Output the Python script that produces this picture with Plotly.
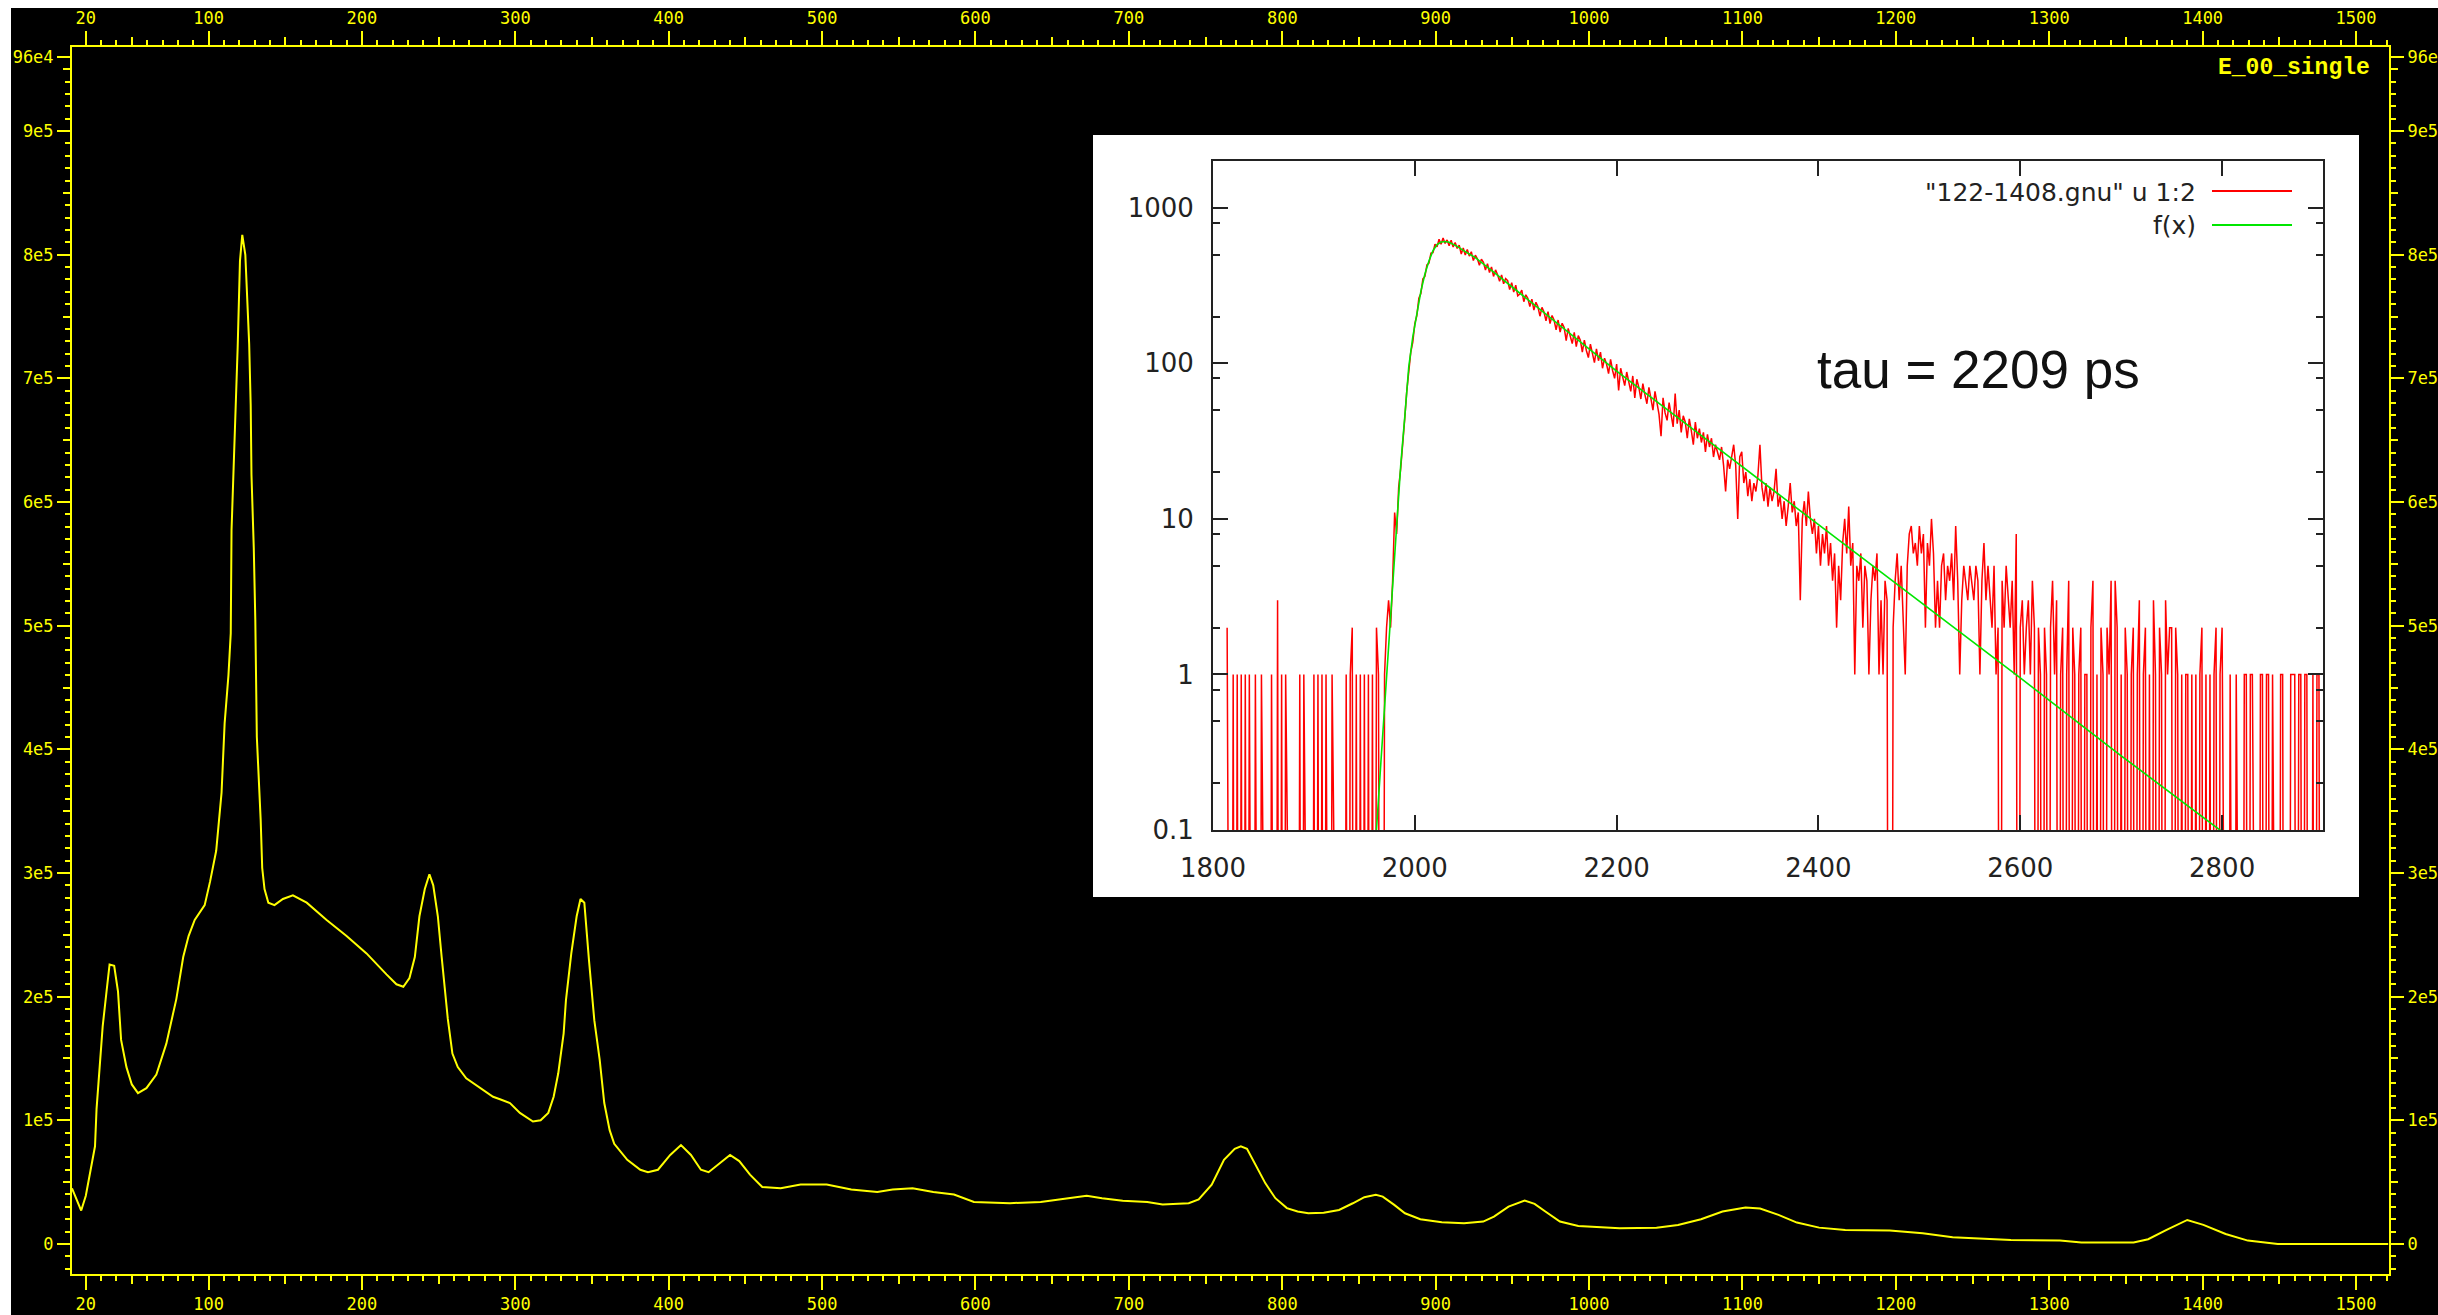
import math
import plotly.graph_objects as go

# ---------------- page geometry (pixels) ----------------
W, H = 2438, 1315
ML, MR, MT, MB = 72, 49, 47, 41
PW, PH = W - ML - MR, H - MT - MB


def fx(p):
    return (p - ML) / PW


def fy(p):
    return (H - MB - p) / PH


YEL = '#ffff00'
INK = '#222222'

# ---------------- main spectrum (E_00_single) ----------------
spec_x = [11, 14, 17, 20, 23.7, 26, 27, 29, 31, 33.5,
          35.5, 38.5, 41, 43, 46.5, 50, 54, 59.5, 66, 72.5,
          79, 83.5, 87, 91, 97.5, 101, 105, 108.5, 110.5, 113,
          114.5, 115, 116.5, 118, 119, 120.5, 122, 124, 125, 126.5,
          127.5, 128, 129.5, 130.5, 131.5, 133, 134, 135, 136.5, 139,
          143, 148.5, 155, 164, 177, 190, 203, 216, 222.5, 227,
          231, 234.5, 237.5, 241, 244, 246.5, 249.5, 252, 254, 256,
          259, 262.5, 268, 277, 285.5, 290, 296.5, 303, 311.5, 316.5,
          321.5, 325, 328, 331.5, 333, 336.5, 340, 342.5, 345, 348,
          351.5, 355, 358, 361.5, 364.5, 373, 381.5, 386.5, 393, 401,
          408, 414.5, 421, 426, 433, 440, 446, 453, 461, 473,
          486, 503, 519, 536, 546, 559, 572.5, 586, 599, 622.5,
          642.5, 659, 672.5, 682.5, 696, 712, 722, 739, 745.5, 754,
          762, 769, 773, 777, 782, 789, 795.5, 803, 810, 817,
          827, 837, 846, 853.5, 861, 865.5, 873, 880, 890, 904,
          918.5, 931, 938, 947.5, 958, 964.5, 971.5, 981, 993, 1020,
          1044, 1058, 1073, 1087, 1102, 1111.5, 1123.5, 1135.5, 1150, 1167,
          1196, 1217.5, 1237, 1261, 1275, 1307, 1321, 1355, 1364.5, 1376.5,
          1390, 1400.5, 1415, 1429.5, 1449, 1521]

# counts in units of 1e5
spec_y_e5 = [0.45, 0.36, 0.27, 0.39, 0.65, 0.79, 1.09, 1.43, 1.76, 2.04,
             2.26, 2.25, 2.04, 1.65, 1.43, 1.29, 1.22, 1.26, 1.37, 1.62,
             1.98, 2.32, 2.49, 2.62, 2.74, 2.93, 3.18, 3.65, 4.21, 4.6,
             4.94, 5.77, 6.27, 6.78, 7.25, 7.95, 8.16, 8.0, 7.72, 7.28,
             6.78, 6.22, 5.63, 5.05, 4.1, 3.71, 3.43, 3.04, 2.87, 2.76,
             2.74, 2.79, 2.82, 2.76, 2.62, 2.49, 2.35, 2.18, 2.10, 2.08,
             2.15, 2.32, 2.65, 2.87, 2.99, 2.9, 2.65, 2.32, 2.04, 1.82,
             1.54, 1.43, 1.34, 1.26, 1.19, 1.17, 1.14, 1.06, 0.99, 1.0,
             1.06, 1.19, 1.38, 1.7, 1.97, 2.35, 2.65, 2.79, 2.76, 2.3,
             1.81, 1.49, 1.14, 0.92, 0.81, 0.68, 0.6, 0.58, 0.6, 0.72,
             0.8, 0.72, 0.6, 0.58, 0.65, 0.72, 0.67, 0.56, 0.46, 0.45,
             0.48, 0.48, 0.44, 0.42, 0.44, 0.45, 0.42, 0.4, 0.34, 0.33,
             0.34, 0.37, 0.39, 0.37, 0.35, 0.34, 0.32, 0.33, 0.36, 0.48,
             0.68, 0.77, 0.79, 0.77, 0.65, 0.49, 0.37, 0.29, 0.262, 0.248,
             0.253, 0.275, 0.329, 0.378, 0.397, 0.383, 0.316, 0.248, 0.2, 0.175,
             0.167, 0.181, 0.221, 0.302, 0.351, 0.324, 0.262, 0.181, 0.146, 0.127,
             0.132, 0.154, 0.2, 0.262, 0.294, 0.286, 0.235, 0.173, 0.132, 0.113,
             0.108, 0.086, 0.054, 0.038, 0.032, 0.027, 0.011, 0.011, 0.038, 0.113,
             0.194, 0.154, 0.081, 0.027, 0.0, 0.0]

main_xticks = [20, 100, 200, 300, 400, 500, 600, 700, 800, 900, 1000,
               1100, 1200, 1300, 1400, 1500]
main_xmid = [50, 150, 250, 350, 450, 550, 650, 750, 850, 950, 1050,
             1150, 1250, 1350, 1450]
main_yticks = [0, 100000, 200000, 300000, 400000, 500000, 600000,
               700000, 800000, 900000, 960000]
main_ytext = ['0', '1e5', '2e5', '3e5', '4e5', '5e5', '6e5', '7e5',
              '8e5', '9e5', '96e4']
main_ymid = [50000, 150000, 250000, 350000, 450000, 550000, 650000,
             750000, 850000, 950000]

# ---------------- inset: lifetime spectrum ----------------
red_pre_start = 1814
red_pre = [2, 0, 0, 1, 0, 1, 0, 1, 0, 1,
           0, 1, 0, 0, 1, 0, 0, 1, 0, 0,
           0, 0, 1, 0, 0, 3, 0, 1, 0, 1,
           0, 0, 0, 0, 0, 0, 1, 0, 1, 0,
           0, 0, 0, 1, 0, 1, 0, 1, 0, 1,
           0, 0, 1, 0, 0, 0, 0, 0, 0, 1,
           0, 1, 2, 0, 1, 0, 1, 0, 1, 0,
           1, 0, 1, 0, 2, 1, 0, 0, 1, 2,
           3]

red_decay_start = 1976
red_decay = [2, 4, 11, 8, 16, 21, 33, 44, 66, 93,
             118, 137, 180, 203, 262, 281, 349, 362, 430, 441,
             512, 515, 583, 561, 628, 584, 640, 590, 622, 571,
             618, 560, 599, 548, 575, 505, 552, 497, 540, 489,
             522, 458, 496, 470, 428, 467, 446, 398, 437, 384,
             417, 362, 399, 371, 337, 370, 325, 351, 340, 298,
             330, 287, 318, 272, 279, 296, 249, 276, 262, 232,
             259, 220, 247, 231, 201, 229, 214, 188, 215, 180,
             203, 190, 164, 190, 159, 181, 170, 140, 168, 150,
             134, 158, 128, 151, 141, 118, 141, 121, 109, 133,
             115, 101, 124, 104, 118, 93, 108, 99, 86, 106,
             90, 80, 99, 67, 93, 81, 72, 88, 75, 66,
             83, 60, 79, 70, 59, 74, 63, 55, 70, 58,
             50, 66, 55, 47, 34, 60, 48, 43, 56, 47,
             39, 64, 41, 50, 36, 46, 42, 33, 44, 37,
             30, 42, 33]

red_tail_start = 2282
red_tail = [38, 31, 36, 27, 35, 29, 33, 25, 30, 27,
            24, 29, 22, 15, 24, 21, 26, 30, 22, 10,
            25, 27, 17, 20, 14, 18, 13, 17, 15, 19,
            30, 16, 13, 17, 12, 16, 13, 15, 21, 12,
            14, 10, 13, 9, 12, 17, 11, 13, 9, 11,
            3, 10, 13, 9, 15, 10, 8, 10, 6, 9,
            5, 8, 6, 9, 5, 7, 4, 6, 2, 5,
            3, 7, 10, 6, 12, 5, 7, 1, 5, 4,
            6, 2, 5, 4, 1, 3, 5, 4, 6, 1,
            3, 1, 4, 3, 0, 0, 2, 4, 6, 3,
            5, 2, 1, 5, 8, 9, 6, 7, 5, 9,
            6, 8, 2, 7, 5, 10, 6, 2, 4, 2,
            5, 6, 3, 5, 4, 6, 3, 9, 4, 1,
            3, 5, 4, 3, 5, 4, 3, 5, 4, 1,
            4, 7, 3, 5, 3, 2, 5, 1, 2, 0,
            4, 2, 5, 3, 2, 4, 1, 8, 0, 2,
            3, 1, 2, 3, 1, 4, 2, 0, 2, 1,
            0, 2, 1, 0, 2, 4, 1, 3, 0, 1,
            2, 0, 1, 4, 0, 2, 1, 0, 1, 2,
            0, 1, 1, 0, 2, 4, 0, 1, 0, 2,
            1, 0, 2, 1, 4, 0, 4, 2, 0, 1,
            0, 2, 1, 0, 1, 2, 0, 1, 3, 0,
            1, 2, 0, 1, 0, 3, 1, 0, 2, 1,
            0, 3, 1, 2, 2, 0, 2, 1, 0, 1,
            0, 1, 1, 0, 1, 0, 1, 0, 1, 2,
            0, 1, 0, 1, 0, 1, 2, 0, 1, 2,
            0, 0, 0, 1, 0, 0, 1, 0, 0, 0,
            1, 1, 0, 1, 1, 0, 0, 0, 1, 1,
            0, 1, 1, 0, 1, 0, 0, 0, 1, 1,
            0, 0, 0, 1, 1, 1, 0, 1, 1, 0,
            1, 1, 0, 0, 1, 0, 1, 1, 0]
red_step = 2

green_x = [1958, 1962, 1966, 1970, 1974, 1978, 1982, 1986, 1990, 1994,
           1998, 2002, 2006, 2010, 2014, 2018, 2022, 2026, 2030, 2034,
           2038, 2042, 2048, 2054, 2060, 2080, 2100, 2120, 2150, 2200,
           2300, 2400, 2500, 2600, 2700, 2800, 2820]
green_y = [0.05, 0.1, 0.25, 0.62, 1.6, 4.2, 10, 22, 45, 95,
           148, 212, 290, 375, 455, 530, 580, 603, 608, 600,
           585, 565, 533, 505, 478, 378, 297, 233, 161, 89,
           28.6, 9.16, 2.94, 0.95, 0.30, 0.097, 0.078]

inset_xticks = [1800, 2000, 2200, 2400, 2600, 2800]
inset_yticks = [0.1, 1, 10, 100, 1000]
inset_ytext = ['0.1', '1', '10', '100', '1000']
inset_yminor = [0.2, 0.5, 0.8, 2, 5, 8, 20, 50, 80, 200, 500, 800]
inset_ymax = 2000
legend_labels = ['"122-1408.gnu" u 1:2', 'f(x)']
tau_text = 'tau = 2209 ps'
title_text = 'E_00_single'

ZERO_LOG = -6.0  # empty channels fall to the bottom of the log axis


def seg(start, vals):
    return [start + red_step * i for i in range(len(vals))], vals


rx = []
rc = []
for s, v in ((red_pre_start, red_pre), (red_decay_start, red_decay),
             (red_tail_start, red_tail)):
    xx, vv = seg(s, v)
    rx += xx
    rc += vv
red_log = [math.log10(c) if c > 0 else ZERO_LOG for c in rc]
green_log = [math.log10(v) for v in green_y]

spec_counts = [v * 1e5 for v in spec_y_e5]

# ---------------- figure ----------------
fig = go.Figure()
fig.add_trace(go.Scatter(x=spec_x, y=spec_counts, mode='lines',
                         line=dict(color=YEL, width=2),
                         xaxis='x', yaxis='y', hoverinfo='skip'))
for i in (2, 3, 4):
    fig.add_trace(go.Scatter(x=[None], y=[None], mode='lines',
                             xaxis=f'x{i}', yaxis=f'y{i}', hoverinfo='skip'))
fig.add_trace(go.Scatter(x=rx, y=red_log, mode='lines',
                         line=dict(color='#ff0000', width=1.5),
                         xaxis='x5', yaxis='y5', hoverinfo='skip'))
fig.add_trace(go.Scatter(x=green_x, y=green_log, mode='lines',
                         line=dict(color='#00e600', width=1.6),
                         xaxis='x5', yaxis='y5', hoverinfo='skip'))

x_range = [11, 1521.5]
y_range = [-24300, 968000]
mfont = dict(family='DejaVu Sans Mono', size=17, color=YEL)

base_x = dict(range=x_range, type='linear', autorange=False, showgrid=False,
              zeroline=False, ticks='outside', tickcolor=YEL, tickwidth=1.5,
              automargin=False, fixedrange=True)
base_y = dict(range=y_range, type='linear', autorange=False, showgrid=False,
              zeroline=False, ticks='outside', tickcolor=YEL, tickwidth=1.5,
              automargin=False, fixedrange=True)

minor_x = dict(tickmode='linear', tick0=0, dtick=10, ticklen=5,
               ticks='outside', tickcolor=YEL, tickwidth=1.5, showgrid=False)
minor_y = dict(tickmode='linear', tick0=0, dtick=10000, ticklen=5,
               ticks='outside', tickcolor=YEL, tickwidth=1.5, showgrid=False)

layout_axes = dict(
    xaxis=dict(**base_x, side='bottom', anchor='y', tickmode='array',
               tickvals=main_xticks, ticktext=[str(v) for v in main_xticks],
               ticklen=14, tickfont=mfont, showline=True, linecolor=YEL,
               linewidth=2, minor=minor_x),
    yaxis=dict(**base_y, side='left', anchor='x', tickmode='array',
               tickvals=main_yticks, ticktext=main_ytext, ticklen=13,
               tickfont=mfont, showline=True, linecolor=YEL, linewidth=2,
               minor=minor_y),
    xaxis2=dict(**base_x, side='top', overlaying='x', anchor='y2',
                tickmode='array', tickvals=main_xticks,
                ticktext=[str(v) for v in main_xticks], ticklen=14,
                tickfont=mfont, showline=True, linecolor=YEL, linewidth=2,
                minor=minor_x),
    yaxis2=dict(**base_y, side='right', overlaying='y', anchor='x2',
                tickmode='array', tickvals=main_yticks, ticktext=main_ytext,
                ticklen=13, tickfont=mfont, showline=True, linecolor=YEL,
                linewidth=2, minor=minor_y),
    xaxis3=dict(**base_x, side='bottom', overlaying='x', anchor='y3',
                tickmode='array', tickvals=main_xmid, showticklabels=False,
                ticklen=9, showline=False),
    yaxis3=dict(**base_y, side='left', overlaying='y', anchor='x3',
                tickmode='array', tickvals=main_ymid, showticklabels=False,
                ticklen=8, showline=False),
    xaxis4=dict(**base_x, side='top', overlaying='x', anchor='y4',
                tickmode='array', tickvals=main_xmid, showticklabels=False,
                ticklen=9, showline=False),
    yaxis4=dict(**base_y, side='right', overlaying='y', anchor='x4',
                tickmode='array', tickvals=main_ymid, showticklabels=False,
                ticklen=8, showline=False),
    xaxis5=dict(domain=[fx(1213), fx(2323)], range=[1800, 2900],
                type='linear', autorange=False, anchor='y5',
                tickmode='array', tickvals=inset_xticks,
                ticktext=[str(v) for v in inset_xticks],
                ticks='inside', ticklen=15, tickwidth=1.5, tickcolor=INK,
                showline=True, linecolor=INK, linewidth=2, mirror='allticks',
                showgrid=False, zeroline=False, automargin=False,
                fixedrange=True,
                tickfont=dict(family='DejaVu Sans', size=26, color=INK),
                ticklabelstandoff=14),
    yaxis5=dict(domain=[fy(830), fy(161)],
                range=[-1, math.log10(inset_ymax)], type='linear',
                autorange=False, anchor='x5', tickmode='array',
                tickvals=[math.log10(v) for v in inset_yticks],
                ticktext=inset_ytext, ticks='inside', ticklen=15,
                tickwidth=1.5, tickcolor=INK, showline=True, linecolor=INK,
                linewidth=2, mirror='allticks', showgrid=False,
                zeroline=False, automargin=False, fixedrange=True,
                tickfont=dict(family='DejaVu Sans', size=26, color=INK),
                ticklabelstandoff=12,
                minor=dict(tickmode='array',
                           tickvals=[math.log10(v) for v in inset_yminor],
                           ticks='inside', ticklen=7, tickwidth=1.5,
                           tickcolor=INK, showgrid=False)),
)

shapes = [
    # white inset panel
    dict(type='rect', xref='paper', yref='paper', x0=fx(1093), x1=fx(2359),
         y0=fy(897), y1=fy(135), fillcolor='white', line=dict(width=0),
         layer='below'),
    # white screen-capture borders
    dict(type='rect', xref='paper', yref='paper', x0=fx(0), x1=fx(W),
         y0=fy(8), y1=fy(0), fillcolor='white', line=dict(width=0),
         layer='above'),
    dict(type='rect', xref='paper', yref='paper', x0=fx(0), x1=fx(11),
         y0=fy(H), y1=fy(0), fillcolor='white', line=dict(width=0),
         layer='above'),
    # legend samples
    dict(type='line', xref='paper', yref='paper', x0=fx(2212), x1=fx(2292),
         y0=fy(191), y1=fy(191), line=dict(color='#ff0000', width=2),
         layer='above'),
    dict(type='line', xref='paper', yref='paper', x0=fx(2212), x1=fx(2292),
         y0=fy(225), y1=fy(225), line=dict(color='#00e600', width=2),
         layer='above'),
]

annotations = [
    dict(text='<b>' + title_text + '</b>', xref='paper', yref='paper',
         x=fx(2372), y=fy(68), xanchor='right', yanchor='middle',
         showarrow=False,
         font=dict(family='Liberation Mono', size=23, color=YEL)),
    dict(text=legend_labels[0], xref='paper', yref='paper', x=fx(2198),
         y=fy(192), xanchor='right', yanchor='middle', showarrow=False,
         font=dict(family='DejaVu Sans', size=25, color=INK)),
    dict(text=legend_labels[1], xref='paper', yref='paper', x=fx(2198),
         y=fy(226), xanchor='right', yanchor='middle', showarrow=False,
         font=dict(family='DejaVu Sans', size=25, color=INK)),
    dict(text=tau_text, xref='paper', yref='paper', x=fx(1815),
         y=fy(369), xanchor='left', yanchor='middle', showarrow=False,
         font=dict(family='Liberation Sans', size=53, color='#111111')),
]

fig.update_layout(
    template='none',
    width=W, height=H,
    margin=dict(l=ML, r=MR, t=MT, b=MB, pad=0, autoexpand=False),
    paper_bgcolor='black',
    plot_bgcolor='rgba(0,0,0,0)',
    showlegend=False,
    hovermode=False,
    shapes=shapes,
    annotations=annotations,
    **layout_axes,
)

fig.write_html('out.html')
